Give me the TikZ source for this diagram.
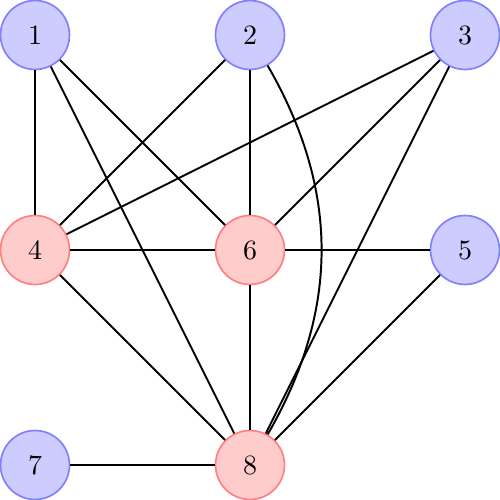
\documentclass[tikz,border=0pt]{standalone}
\begin{document}
\begin{tikzpicture}[x=27mm, y=27mm,
  vtx/.style={circle,minimum size=8.66mm,inner sep=0pt,semithick},
  bvtx/.style={vtx,draw=blue!50,fill=blue!20},
  rvtx/.style={vtx,draw=red!50,fill=red!20},
  edge/.style={line width=0.7pt}]

\useasboundingbox (-0.1628,-0.1628) rectangle (2.1628,2.1628);

\node[bvtx] (n1) at (0,2) {1};
\node[bvtx] (n2) at (1,2) {2};
\node[bvtx] (n3) at (2,2) {3};
\node[rvtx] (n4) at (0,1) {4};
\node[rvtx] (n6) at (1,1) {6};
\node[bvtx] (n5) at (2,1) {5};
\node[bvtx] (n7) at (0,0) {7};
\node[rvtx] (n8) at (1,0) {8};

\begin{scope}[edge]
\draw (n1) -- (n4);
\draw (n1) -- (n6);
\draw (n1) -- (n8);
\draw (n2) -- (n4);
\draw (n2) -- (n6);
\draw (n2) to[bend left=30] (n8);
\draw (n3) -- (n4);
\draw (n3) -- (n6);
\draw (n3) -- (n8);
\draw (n4) -- (n6);
\draw (n6) -- (n5);
\draw (n4) -- (n8);
\draw (n6) -- (n8);
\draw (n5) -- (n8);
\draw (n7) -- (n8);
\end{scope}

\end{tikzpicture}
\end{document}
